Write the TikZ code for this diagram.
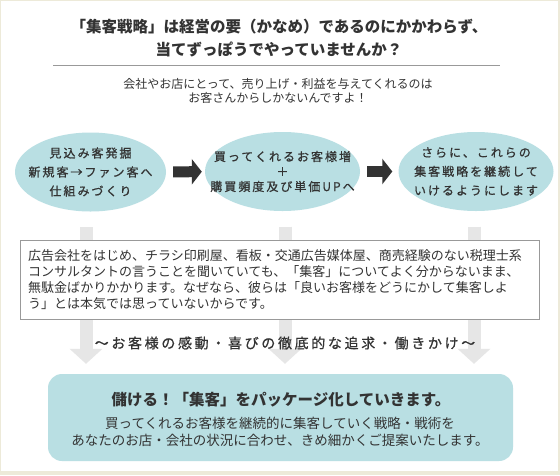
\documentclass[tikz,border=0pt]{standalone}
\usepackage{fontspec}
\setmainfont{Noto Sans CJK JP}
\usepackage{xcolor}
\usepackage{tikz}
\usetikzlibrary{shapes.geometric,arrows.meta,calc}
\definecolor{celeste}{HTML}{B9DFE3}
\definecolor{ink}{HTML}{333333}
\definecolor{beige}{HTML}{EDEAD9}
\definecolor{stripegray}{HTML}{E6E6E6}
\definecolor{rulegray}{HTML}{999999}
\newcommand\trackit[1]{\addfontfeatures{LetterSpace=#1,FakeBold=0.8}}
\tikzset{
  bubble/.style={ellipse,fill=celeste,minimum height=79pt,inner xsep=-30pt,inner ysep=-15pt,
    align=center,text=ink,font=\fontsize{12}{19}\selectfont\trackit{16.7}},
  darkarrow/.style={draw=ink,line width=11pt,-{Triangle[length=10pt,width=25pt]}},
  lightarrow/.style={draw=stripegray,line width=13pt,-{Triangle[length=15pt,width=32pt]},
    shorten <=15.5pt,shorten >=10pt},
  warnbox/.style={draw=rulegray,fill=white,anchor=north west,inner xsep=8pt,inner ysep=0pt,
    text width=503pt,minimum height=79pt,align=left,text=ink,font=\fontsize{13}{16}\selectfont},
  payoff/.style={fill=celeste,rounded corners=14pt,minimum width=465pt,minimum height=87pt,inner sep=0pt}
}
\begin{document}
\begin{tikzpicture}[x=1pt,y=-1pt]
% marco
\fill[beige] (0,0) rectangle (560,475);
\fill[white] (1,1) rectangle (558,471);
% cabecera
\node[align=center,text=ink,font=\bfseries\fontsize{15.5}{23}\selectfont] (title) at (279,38.5)
  {「集客戦略」は経営の要（かなめ）であるのにかかわらず、\\当てずっぽうでやっていませんか？};
\coordinate (ruleL) at (53,65); \coordinate (ruleR) at (500,65);
\draw[rulegray] (ruleL)--(ruleR);
\node[align=center,text=ink,font=\fontsize{12}{14}\selectfont] (lead) at (278,91)
  {会社やお店にとって、売り上げ・利益を与えてくれるのは\\お客さんからしかないんですよ！};
% tres burbujas
\node[bubble,minimum width=151pt] (need) at (90.5,172) {見込み客発掘\\新規客→ファン客へ\\仕組みづくり};
\node[bubble,minimum width=155pt,font=\fontsize{12}{15}\selectfont\trackit{16.7}] (grow) at (282.5,171.5)
  {買ってくれるお客様増\\＋\\購買頻度及び単価UPへ};
\node[bubble,minimum width=155pt] (keep) at (476,171.5) {さらに、これらの\\集客戦略を継続して\\いけるようにします};
\draw[darkarrow,shorten <=7pt,shorten >=3pt] (need)--(grow);
\draw[darkarrow,shorten <=7pt,shorten >=6pt] (grow)--(keep);
% resultado
\node[payoff] (result) at (280.5,417.5) {};
\draw[lightarrow] ([xshift=-4.5pt]need.south)--([xshift=-4.5pt]need.south |- result.north);
\draw[lightarrow] ([xshift=2.5pt]grow.south)--([xshift=2.5pt]grow.south |- result.north);
\draw[lightarrow] ([xshift=-2pt]keep.south)--([xshift=-2pt]keep.south |- result.north);
\node[warnbox] (warn) at (20,240)
  {広告会社をはじめ、チラシ印刷屋、看板・交通広告媒体屋、商売経験のない税理士系\\
   コンサルタントの言うことを聞いていても、「集客」についてよく分からないまま、\\
   無駄金ばかりかかります。なぜなら、彼らは「良いお客様をどうにかして集客しよ\\
   う」とは本気では思っていないからです。};
\node[text=ink,font=\fontsize{14}{16}\selectfont\trackit{19}] (motto) at (285,343)
  {〜お客様の感動・喜びの徹底的な追求・働きかけ〜};
\node[text=ink,font=\bfseries\fontsize{15.5}{18}\selectfont] (resulttitle) at (281,400)
  {儲ける！「集客」をパッケージ化していきます。};
\node[align=center,text=ink,font=\fontsize{13.5}{17}\selectfont] (resultbody) at (280,431.5)
  {買ってくれるお客様を継続的に集客していく戦略・戦術を\\あなたのお店・会社の状況に合わせ、きめ細かくご提案いたします。};
\end{tikzpicture}
\end{document}
